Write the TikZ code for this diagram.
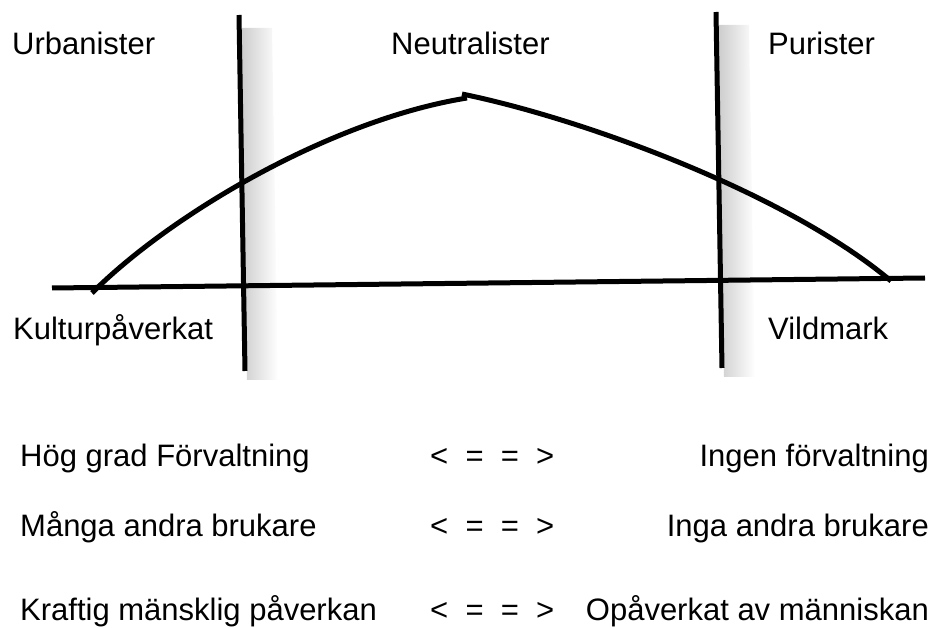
\documentclass[tikz,border=0pt]{standalone}
\usepackage{fontspec}
\setmainfont{Liberation Sans}
\begin{document}
\begin{tikzpicture}[x=1pt,y=-1pt,
  lbl/.style={font=\fontsize{31}{36}\selectfont, inner sep=0pt, anchor=base west},
  lblr/.style={lbl, anchor=base east},
  heavy/.style={line width=5pt, black},
  shadowfill/.style={left color=black!20, right color=white}]
\useasboundingbox (0,0) rectangle (938,628);
% coordinates
\coordinate (v1t) at (239,15);
\coordinate (v1b) at (245,371);
\coordinate (v2t) at (716,12);
\coordinate (v2b) at (722,368);
\coordinate (hl) at (52,288);
\coordinate (hr) at (925,278);
\coordinate (a0) at (92,293);
\coordinate (a1) at (467,98);
\coordinate (a2) at (462,94);
\coordinate (a3) at (891,281);
% soft shadows right of the vertical lines
\shade[shadowfill] (241,28) -- (272,28) -- (278,380) -- (247,380) -- cycle;
\shade[shadowfill] (718,25) -- (749,25) -- (755,377) -- (724,377) -- cycle;
% lines
\draw[heavy] (hl) -- (hr);
\draw[heavy] (v1t) -- (v1b);
\draw[heavy] (v2t) -- (v2b);
\draw[heavy] (a0) .. controls (170,215) and (330,120) .. (a1);
\draw[heavy] (a2) .. controls (580,118) and (785,192) .. (a3);
% labels
\node[lbl] (urb) at (12,55) {Urbanister};
\node[lbl] (neu) at (391,55) {Neutralister};
\node[lbl] (pur) at (768,55) {Purister};
\node[lbl] (kul) at (13,340) {Kulturpåverkat};
\node[lbl] (vil) at (768,340) {Vildmark};
% bottom rows
\node[lbl] (r1l) at (20,467) {Hög grad Förvaltning};
\node[lbl] (r1m) at (430,467) {<\ \ =\ \ =\ \ >};
\node[lblr] (r1r) at (929,467) {Ingen förvaltning};
\node[lbl] (r2l) at (20,536) {Många andra brukare};
\node[lbl] (r2m) at (430,536) {<\ \ =\ \ =\ \ >};
\node[lblr] (r2r) at (929,536) {Inga andra brukare};
\node[lbl] (r3l) at (20,620) {Kraftig mänsklig påverkan};
\node[lbl] (r3m) at (430,620) {<\ \ =\ \ =\ \ >};
\node[lblr] (r3r) at (929,620) {Opåverkat av människan};
\end{tikzpicture}
\end{document}
